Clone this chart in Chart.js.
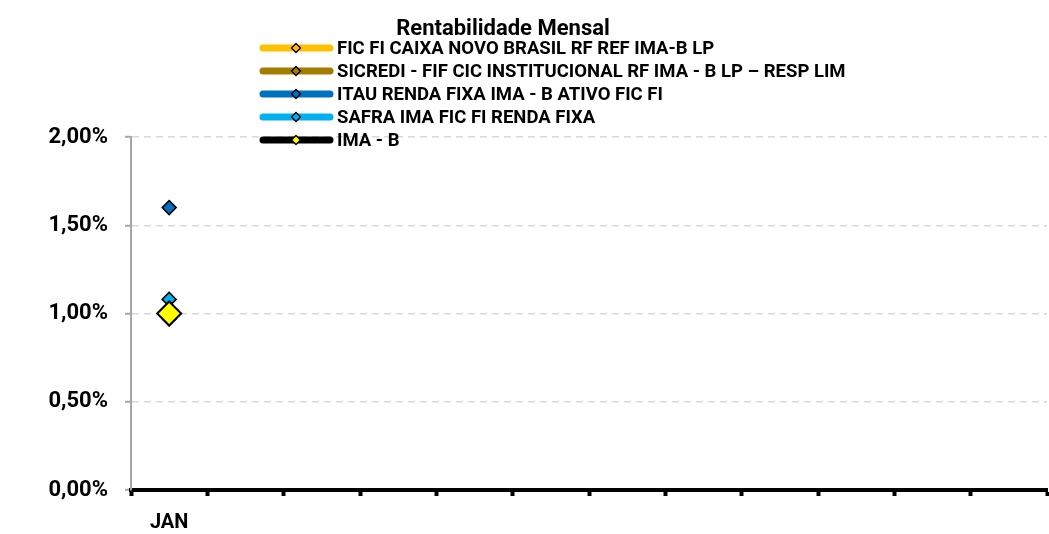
<!DOCTYPE html>
<html>
<head>
<meta charset="utf-8">
<script src="https://cdn.jsdelivr.net/npm/chart.js@4"></script>
<style>
  body { margin: 0; background: #fff; }
  #wrap { width: 1049px; height: 534px; }
</style>
</head>
<body>
<div id="wrap"><canvas id="rentChart"></canvas></div>
<script>
const months = ['JAN', 'FEV', 'MAR', 'ABR', 'MAI', 'JUN', 'JUL', 'AGO', 'SET', 'OUT', 'NOV', 'DEZ'];
const caixa   = [0.98, null, null, null, null, null, null, null, null, null, null, null];
const sicredi = [0.97, null, null, null, null, null, null, null, null, null, null, null];
const itau    = [1.60, null, null, null, null, null, null, null, null, null, null, null];
const safra   = [1.08, null, null, null, null, null, null, null, null, null, null, null];
const imab    = [1.00, null, null, null, null, null, null, null, null, null, null, null];
const yTicks  = [0, 0.5, 1.0, 1.5, 2.0];

const FONT = 'Roboto, "Liberation Sans", sans-serif';

function serie(label, data, line, fill, radius, order) {
  return {
    label: label,
    data: data,
    borderColor: line,
    backgroundColor: fill,
    borderWidth: 6,
    pointStyle: 'rectRot',
    pointRadius: radius,
    pointBorderColor: '#000',
    pointBackgroundColor: fill,
    pointBorderWidth: radius > 10 ? 2 : 1.5,
    order: order,
    spanGaps: false
  };
}

const datasets = [
  serie('FIC FI CAIXA NOVO BRASIL RF REF IMA-B LP', caixa, '#FFC000', '#FFC000', 7, 4),
  serie('SICREDI - FIF CIC INSTITUCIONAL RF IMA - B LP \u2013 RESP LIM', sicredi, '#A67C00', '#A67C00', 7, 3),
  serie('ITAU RENDA FIXA IMA - B ATIVO FIC FI', itau, '#0070C0', '#0070C0', 7, 2),
  serie('SAFRA IMA FIC FI RENDA FIXA', safra, '#00B0F0', '#00B0F0', 7, 1),
  serie('IMA - B', imab, '#000000', '#FFFF00', 12, 0)
];

// titulo + legenda desenhados por cima (a legenda invade a area do grafico)
const titleLegend = {
  id: 'titleLegend',
  afterDraw(chart) {
    const c = chart.ctx;
    c.save();
    c.fillStyle = '#000';
    c.font = 'bold 22px ' + FONT;
    c.textAlign = 'center';
    c.textBaseline = 'alphabetic';
    c.fillText('Rentabilidade Mensal', 503, 35);

    c.font = 'bold 18.5px ' + FONT;
    c.textAlign = 'left';
    c.textBaseline = 'middle';
    chart.data.datasets.forEach((ds, i) => {
      const y = 48 + i * 23;
      c.strokeStyle = ds.borderColor;
      c.lineWidth = 7;
      c.lineCap = 'round';
      c.beginPath();
      c.moveTo(263, y);
      c.lineTo(330, y);
      c.stroke();
      // marcador
      const r = 4.5;
      c.beginPath();
      c.moveTo(296, y - r);
      c.lineTo(296 + r, y);
      c.lineTo(296, y + r);
      c.lineTo(296 - r, y);
      c.closePath();
      c.fillStyle = ds.pointBackgroundColor;
      c.fill();
      c.lineWidth = 1.3;
      c.strokeStyle = '#000';
      c.stroke();
      c.fillStyle = '#000';
      c.fillText(ds.label, 337, y + 1);
    });
    c.restore();
  }
};

const ctx = document.getElementById('rentChart').getContext('2d');
new Chart(ctx, {
  type: 'line',
  data: { labels: months, datasets: datasets },
  options: {
    responsive: true,
    maintainAspectRatio: false,
    animation: false,
    layout: { autoPadding: false, padding: { top: 137, right: 2, bottom: 0, left: 0 } },
    plugins: {
      legend: { display: false },
      title: { display: false },
      tooltip: { enabled: false }
    },
    scales: {
      x: {
        offset: true,
        afterFit(scale) {
          scale.height = 44;
          scale.paddingLeft = 0;
          scale.paddingRight = 0;
        },
        grid: {
          offset: true,
          drawOnChartArea: false,
          drawTicks: true,
          tickLength: 6,
          tickWidth: 4,
          tickColor: '#000'
        },
        border: { color: '#000', width: 4 },
        ticks: {
          autoSkip: false,
          maxRotation: 0,
          padding: 15,
          color: '#000',
          font: { family: FONT, size: 20, weight: 'bold' },
          callback: function(v, i) {
            const has = datasets.some(d => d.data[i] !== null);
            return has ? months[i] : '';
          }
        }
      },
      y: {
        min: 0,
        max: 2,
        afterFit(scale) { scale.width = 131; },
        afterBuildTicks(scale) { scale.ticks = yTicks.map(v => ({ value: v })); },
        grid: {
          color: '#d9d9d9',
          lineWidth: 1.5,
          tickColor: '#a6a6a6',
          tickLength: 6,
          tickWidth: 2
        },
        border: { color: '#a6a6a6', width: 2, dash: [7, 5] },
        ticks: {
          padding: 17,
          color: '#000',
          font: { family: FONT, size: 22, weight: 'bold' },
          callback: v => v.toFixed(2).replace('.', ',') + '%'
        }
      }
    }
  },
  plugins: [titleLegend]
});
</script>
</body>
</html>
